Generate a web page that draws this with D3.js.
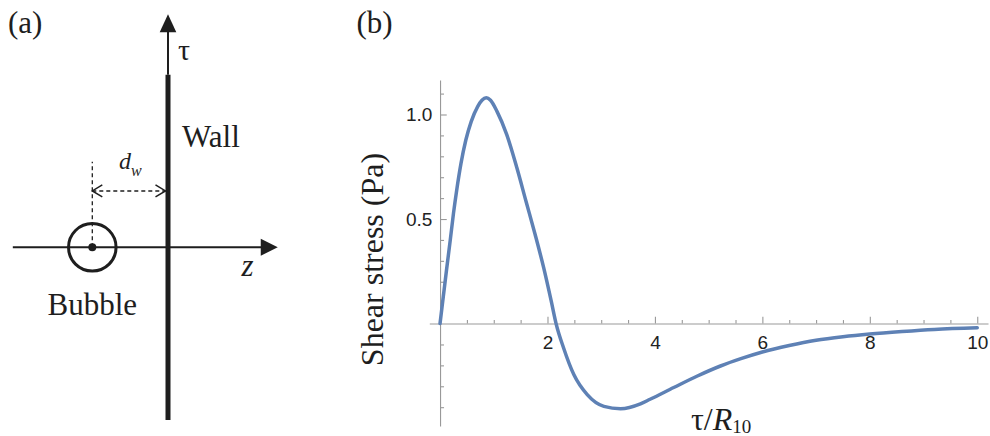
<!DOCTYPE html>
<html><head><meta charset="utf-8">
<script src="https://cdn.jsdelivr.net/npm/d3@7"></script>
<style>
body{margin:0;background:#fff}
svg{display:block}
.serif{font-family:"Liberation Serif","Times New Roman",serif;fill:#1e1e1e}
.tick text{font-family:"Liberation Sans",Arial,sans-serif;font-size:19px;fill:#222}
</style>
</head><body>
<svg id="c" width="990" height="436"></svg>
<script>
// ---- Panel (b) data: tau/R10 vs shear stress (Pa) ----
const tauValues    = [0, 0.06, 0.12, 0.19, 0.25, 0.31, 0.39, 0.48, 0.58, 0.70, 0.78, 0.86, 0.94, 1.06, 1.24, 1.43, 1.6, 1.77, 1.93, 2.07, 2.16, 2.3, 2.49, 2.74, 3.05, 3.36, 3.73, 3.91, 4.35, 4.78, 5.22, 5.6, 6.0, 6.5, 7.0, 7.5, 8.0, 8.6, 9.2, 10.0];
const stressValues = [0, 0.128, 0.255, 0.399, 0.527, 0.638, 0.766, 0.878, 0.966, 1.038, 1.068, 1.08, 1.068, 1.015, 0.905, 0.745, 0.585, 0.426, 0.266, 0.107, 0, -0.117, -0.244, -0.34, -0.396, -0.407, -0.384, -0.362, -0.306, -0.252, -0.203, -0.168, -0.136, -0.105, -0.080, -0.063, -0.050, -0.038, -0.028, -0.020];
const xMajorTicks = [2, 4, 6, 8, 10];
const xMinorTicks = [0.5, 1, 1.5, 2.5, 3, 3.5, 4.5, 5, 5.5, 6.5, 7, 7.5, 8.5, 9, 9.5];
const yMajorTicks = [0.5, 1.0];
const yMinorTicks = [-0.4, -0.3, -0.2, -0.1, 0.1, 0.2, 0.3, 0.4, 0.6, 0.7, 0.8, 0.9, 1.1];
const xDomain = [-0.2, 10.2];
const yDomain = [-0.49, 1.165];

// ---- Panel (a) schematic, in units of d_w ----
const wallSpan = [-2.28, 2.28];
const tauArrowSpan = [2.28, 3.08];
const zAxisSpan = [-2.05, 1.45];
const bubbleCenter = [-1, 0];
const bubbleRadius = 0.314;
const dwLevel = 0.744;
const dashTop = 1.13;

const svg = d3.select("#c");
const ink = "#1e1e1e";

// ===== Panel (a) =====
const dz = d3.scaleLinear().domain([0, 1]).range([168, 243.7]);
const dt = d3.scaleLinear().domain([0, 1]).range([247.3, 171.6]);
const A = svg.append("g");

// z axis
A.append("line").attr("x1", dz(zAxisSpan[0])).attr("x2", dz(zAxisSpan[1]) - 12)
  .attr("y1", dt(0)).attr("y2", dt(0)).attr("stroke", ink).attr("stroke-width", 2);
A.append("path").attr("d", d3.line()([[dz(zAxisSpan[1]), dt(0)], [dz(zAxisSpan[1]) - 17, dt(0) - 8.5], [dz(zAxisSpan[1]) - 17, dt(0) + 8.5]]) + "Z").attr("fill", ink);
// tau arrow
A.append("line").attr("x1", dz(0)).attr("x2", dz(0))
  .attr("y1", dt(tauArrowSpan[0])).attr("y2", dt(tauArrowSpan[1]) + 12).attr("stroke", ink).attr("stroke-width", 2);
A.append("path").attr("d", d3.line()([[dz(0), dt(tauArrowSpan[1])], [dz(0) - 8.3, dt(tauArrowSpan[1]) + 18], [dz(0) + 8.3, dt(tauArrowSpan[1]) + 18]]) + "Z").attr("fill", ink);
// wall
A.append("line").attr("x1", dz(0)).attr("x2", dz(0))
  .attr("y1", dt(wallSpan[1])).attr("y2", dt(wallSpan[0])).attr("stroke", ink).attr("stroke-width", 5);
// bubble
A.append("circle").attr("cx", dz(bubbleCenter[0])).attr("cy", dt(bubbleCenter[1]))
  .attr("r", dz(bubbleRadius) - dz(0)).attr("fill", "none").attr("stroke", ink).attr("stroke-width", 3);
A.append("circle").attr("cx", dz(bubbleCenter[0])).attr("cy", dt(bubbleCenter[1])).attr("r", 4).attr("fill", ink);
// dashed lines
A.append("line").attr("x1", dz(bubbleCenter[0])).attr("x2", dz(bubbleCenter[0]))
  .attr("y1", dt(0)).attr("y2", dt(dashTop)).attr("stroke", ink).attr("stroke-width", 1.3).attr("stroke-dasharray", "4,3");
A.append("line").attr("x1", dz(bubbleCenter[0])).attr("x2", dz(0) - 2.5)
  .attr("y1", dt(dwLevel)).attr("y2", dt(dwLevel)).attr("stroke", ink).attr("stroke-width", 1.3).attr("stroke-dasharray", "4,3");
const ax = dz(bubbleCenter[0]), bx = dz(0) - 2.5, ay = dt(dwLevel);
A.append("path").attr("d", d3.line()([[ax + 10, ay - 6], [ax, ay], [ax + 10, ay + 6]])).attr("fill", "none").attr("stroke", ink).attr("stroke-width", 1.5);
A.append("path").attr("d", d3.line()([[bx - 10, ay - 6], [bx, ay], [bx - 10, ay + 6]])).attr("fill", "none").attr("stroke", ink).attr("stroke-width", 1.5);

// labels
A.append("text").attr("class", "serif").attr("x", 8).attr("y", 33).attr("font-size", 31).text("(a)");
A.append("text").attr("class", "serif").attr("x", 178).attr("y", 60).attr("font-size", 30).text("τ");
A.append("text").attr("class", "serif").attr("x", 182).attr("y", 146.5).attr("font-size", 31).text("Wall");
A.append("text").attr("class", "serif").attr("x", 241.5).attr("y", 276).attr("font-size", 31).attr("font-style", "italic").text("z");
A.append("text").attr("class", "serif").attr("x", dz(bubbleCenter[0])).attr("y", 315).attr("font-size", 31).attr("text-anchor", "middle").text("Bubble");
const dw = A.append("text").attr("class", "serif").attr("x", 119).attr("y", 169.3).attr("font-style", "italic");
dw.append("tspan").attr("font-size", 24).text("d");
dw.append("tspan").attr("font-size", 16).attr("dy", 6.5).text("w");

// ===== Panel (b) =====
const x = d3.scaleLinear().domain(xDomain).range([429.3, 988]);
const y = d3.scaleLinear().domain(yDomain).range([426, 80]);
const B = svg.append("g");
const axisColor = "#999";

B.append("g").attr("transform", `translate(0,${y(0)})`)
  .call(d3.axisBottom(x).tickValues(xMajorTicks).tickSizeInner(-6.7).tickSizeOuter(0).tickPadding(11.5).tickFormat(d3.format("d")));
B.append("g").attr("transform", `translate(0,${y(0)})`)
  .call(d3.axisBottom(x).tickValues(xMinorTicks).tickSizeInner(-3.5).tickSizeOuter(0).tickFormat(""))
  .call(g => g.select(".domain").remove());
B.append("g").attr("transform", `translate(${x(0)},0)`)
  .call(d3.axisLeft(y).tickValues(yMajorTicks).tickSizeInner(-6.7).tickSizeOuter(0).tickPadding(7.7).tickFormat(d3.format(".1f")));
B.append("g").attr("transform", `translate(${x(0)},0)`)
  .call(d3.axisLeft(y).tickValues(yMinorTicks).tickSizeInner(-4).tickSizeOuter(0).tickFormat(""))
  .call(g => g.select(".domain").remove());
B.selectAll(".domain, .tick line").attr("stroke", axisColor).attr("stroke-width", 1.1);

const pts = tauValues.map((t, i) => [t, stressValues[i]]);
B.append("path").datum(pts)
  .attr("fill", "none").attr("stroke", "#5E81B5").attr("stroke-width", 3.5).attr("stroke-linejoin", "round").attr("stroke-linecap", "round")
  .attr("d", d3.line().x(d => x(d[0])).y(d => y(d[1])).curve(d3.curveMonotoneX));

B.append("text").attr("class", "serif").attr("x", 356.5).attr("y", 33).attr("font-size", 31).text("(b)");
B.append("text").attr("class", "serif").attr("font-size", 32).attr("text-anchor", "middle")
  .attr("transform", "translate(383,259.5) rotate(-90)").text("Shear stress (Pa)");
const xl = B.append("text").attr("class", "serif").attr("x", 691).attr("y", 430).attr("font-size", 32);
xl.append("tspan").text("τ/");
xl.append("tspan").attr("font-style", "italic").text("R");
xl.append("tspan").attr("font-size", 19).attr("dy", 3).text("10");
</script>
</body></html>
